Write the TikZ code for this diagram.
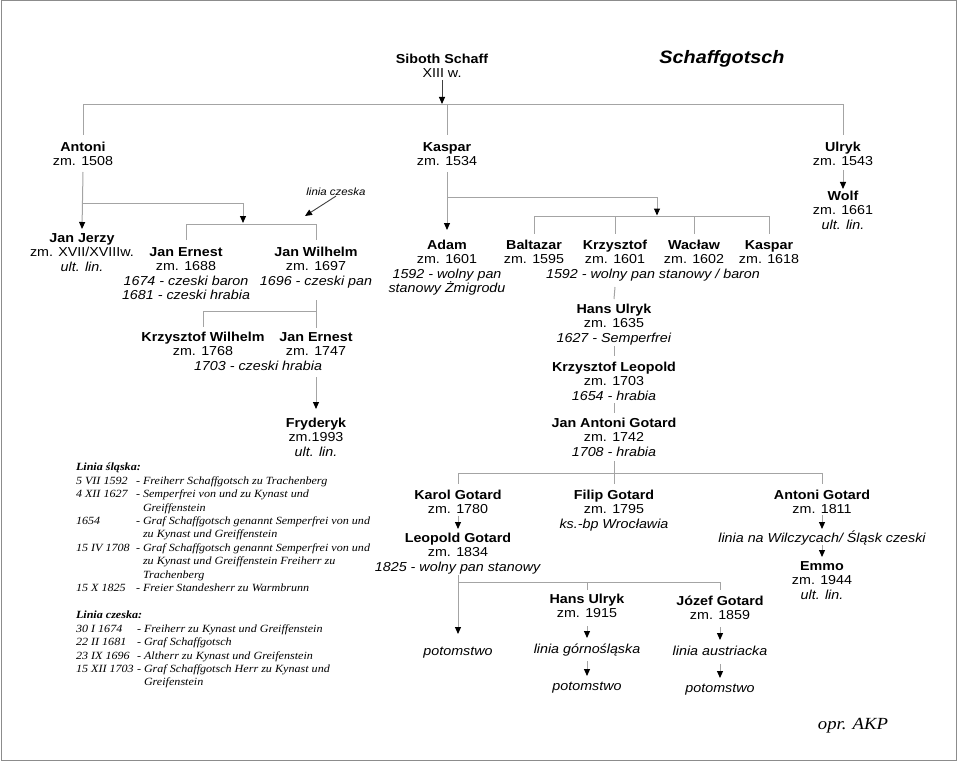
\documentclass[tikz,border=0pt]{standalone}
\usepackage{fontspec}
\setmainfont{Liberation Sans}[FakeStretch=1.1]
\newfontfamily\legendfont{Liberation Serif}[FakeStretch=1.1]
\usetikzlibrary{arrows.meta}
\definecolor{linegray}{HTML}{A4A4A4}
\definecolor{framegray}{HTML}{8C8C8C}
\begin{document}
\begin{tikzpicture}[x=1pt,y=-1pt,
  every node/.style={inner sep=0pt, outer sep=0pt},
  person/.style={align=center, anchor=base, font=\fontsize{13}{14.3}\selectfont},
  p/.style={person, yshift={(1-#1)*14.3pt}},
  note/.style={anchor=base, font=\fontsize{13}{14.3}\selectfont\itshape},
  leg/.style={anchor=base west, align=left, font=\legendfont\itshape\fontsize{11}{13.4}\selectfont},
  lg/.style={leg, yshift={(1-#1)*13.4pt}},
  leghead/.style={anchor=base west, font=\legendfont\bfseries\itshape\fontsize{11}{13.4}\selectfont},
  ln/.style={draw=linegray, line width=1pt},
  arr/.style={ln, -{Triangle[length=7pt,width=6pt,color=black]}},
  darr/.style={draw=black!75, line width=0.9pt, -{Triangle[length=7pt,width=6pt,color=black]}},
]
\useasboundingbox (0,0) rectangle (960,762);
\draw[framegray, line width=1pt] (1,1) rectangle (956,760);

% ---------- people ----------
\node[p=2] (siboth) at (442,63.5) {\textbf{Siboth Schaff}\\XIII w.};
\node[anchor=base, font=\bfseries\itshape\fontsize{18}{20}\selectfont] (title) at (722,63.5) {Schaffgotsch};

\node[p=2] (antoni) at (83,151.5) {\textbf{Antoni}\\zm. 1508};
\node[p=2] (kaspar) at (447,151.5) {\textbf{Kaspar}\\zm. 1534};
\node[p=2] (ulryk) at (843,151.5) {\textbf{Ulryk}\\zm. 1543};
\node[p=3] (wolf) at (843,200.5) {\textbf{Wolf}\\zm. 1661\\\textit{ult. lin.}};

\node[p=3] (janjerzy) at (82,242.5) {\textbf{Jan Jerzy}\\zm. XVII/XVIIIw.\\\textit{ult. lin.}};
\node[p=4] (janernest) at (186,256.5) {\textbf{Jan Ernest}\\zm. 1688\\\textit{1674 - czeski baron}\\\textit{1681 - czeski hrabia}};
\node[p=3] (janwilhelm) at (316,256.5) {\textbf{Jan Wilhelm}\\zm. 1697\\\textit{1696 - czeski pan}};
\node[anchor=base, font=\itshape\fontsize{10.4}{12}\selectfont, inner sep=1pt] (lc) at (336,195) {linia czeska};

\node[p=2] (krzwilhelm) at (203,341.6) {\textbf{Krzysztof Wilhelm}\\zm. 1768};
\node[p=2] (janernest2) at (316,341.6) {\textbf{Jan Ernest}\\zm. 1747};
\node[note] (czhr) at (258,370) {1703 - czeski hrabia};
\node[p=3] (fryderyk) at (316,427.6) {\textbf{Fryderyk}\\zm.1993\\\textit{ult. lin.}};

\node[p=4] (adam) at (447,249.5) {\textbf{Adam}\\zm. 1601\\\textit{1592 - wolny pan}\\\textit{stanowy Żmigrodu}};
\node[p=2] (baltazar) at (534,249.5) {\textbf{Baltazar}\\zm. 1595};
\node[p=2] (krzysztof) at (615,249.5) {\textbf{Krzysztof}\\zm. 1601};
\node[p=2] (waclaw) at (694,249.5) {\textbf{Wacław}\\zm. 1602};
\node[p=2] (kaspar2) at (769,249.5) {\textbf{Kaspar}\\zm. 1618};
\node[note] (wps) at (653,278.5) {1592 - wolny pan stanowy / baron};

\node[p=3] (hansulryk) at (614,313.6) {\textbf{Hans Ulryk}\\zm. 1635\\\textit{1627 - Semperfrei}};
\node[p=3] (krzleopold) at (614,371.6) {\textbf{Krzysztof Leopold}\\zm. 1703\\\textit{1654 - hrabia}};
\node[p=3] (janantoni) at (614,427.6) {\textbf{Jan Antoni Gotard}\\zm. 1742\\\textit{1708 - hrabia}};

\node[p=2] (karol) at (458,499.6) {\textbf{Karol Gotard}\\zm. 1780};
\node[p=3] (leopold) at (458,542.6) {\textbf{Leopold Gotard}\\zm. 1834\\\textit{1825 - wolny pan stanowy}};
\node[p=3] (filip) at (614,499.6) {\textbf{Filip Gotard}\\zm. 1795\\\textit{ks.-bp Wrocławia}};
\node[p=2] (antonig) at (822,499.6) {\textbf{Antoni Gotard}\\zm. 1811};
\node[note] (wilcz) at (822,542.5) {linia na Wilczycach/ Śląsk czeski};
\node[p=3] (emmo) at (822,570.6) {\textbf{Emmo}\\zm. 1944\\\textit{ult. lin.}};

\node[p=2] (hansulryk2) at (587,603.6) {\textbf{Hans Ulryk}\\zm. 1915};
\node[p=2] (jozef) at (720,605.6) {\textbf{Józef Gotard}\\zm. 1859};
\node[note] (pot1) at (458,655.5) {potomstwo};
\node[note] (lgs) at (587,653.5) {linia górnośląska};
\node[note] (pot2) at (587,690.5) {potomstwo};
\node[note] (la) at (720,655.5) {linia austriacka};
\node[note] (pot3) at (720,692.5) {potomstwo};

% ---------- connectors ----------
\draw[darr] (siboth |- 0,80) -- (siboth |- 0,104);
\draw[ln] (antoni |- 0,104.5) -- (ulryk |- 0,104.5);
\draw[ln] (antoni |- 0,104.5) -- (antoni |- 0,135);
\draw[ln] (kaspar |- 0,104.5) -- (kaspar |- 0,135);
\draw[ln] (ulryk |- 0,104.5) -- (ulryk |- 0,135);

\draw[arr] (antoni |- 0,172) -- (janjerzy |- 0,229);
\coordinate (cz1) at (243,203);
\draw[ln] (antoni |- 0,203) -- (cz1);
\draw[arr] (cz1) -- (243,223);
\draw[ln] (janernest |- 0,224) -- (janwilhelm |- 0,224);
\draw[ln] (janernest |- 0,224) -- (janernest |- 0,240);
\draw[ln] (janwilhelm |- 0,224) -- (janwilhelm |- 0,240);
\coordinate (lcend) at (305,216);
\draw[darr] (lc.south) -- (lcend);

\draw[ln] (janwilhelm |- 0,300) -- (janernest2 |- 0,328);
\draw[ln] (krzwilhelm |- 0,311) -- (janwilhelm |- 0,311);
\draw[ln] (krzwilhelm |- 0,311) -- (krzwilhelm |- 0,327);
\draw[arr] (janernest2 |- 0,377) -- (fryderyk |- 0,409);

\draw[arr] (kaspar |- 0,172) -- (adam |- 0,230);
\coordinate (kb) at (657,197);
\draw[ln] (kaspar |- 0,197) -- (kb);
\draw[arr] (kb) -- (657,215.5);
\draw[ln] (baltazar |- 0,216) -- (kaspar2 |- 0,216);
\foreach \n in {baltazar,krzysztof,waclaw,kaspar2}
  \draw[ln] (\n |- 0,216) -- (\n |- 0,234);

\draw[arr] (ulryk |- 0,170) -- (wolf |- 0,189);

\draw[ln] (krzysztof |- 0,287) -- (hansulryk |- 0,299);
\draw[ln] (hansulryk |- 0,346) -- (krzleopold |- 0,356);
\draw[ln] (krzleopold |- 0,403) -- (janantoni |- 0,413);
\draw[ln] (janantoni |- 0,461) -- (filip |- 0,484);
\draw[ln] (karol |- 0,473) -- (antonig |- 0,473);
\draw[ln] (karol |- 0,473) -- (karol |- 0,484);
\draw[ln] (antonig |- 0,473) -- (antonig |- 0,484);

\draw[arr] (karol |- 0,516) -- (leopold |- 0,529);
\draw[arr] (antonig |- 0,515) -- (wilcz |- 0,529);
\draw[arr] (wilcz |- 0,545) -- (emmo |- 0,557);

\draw[arr] (leopold |- 0,575) -- (pot1 |- 0,634);
\draw[ln] (leopold |- 0,582) -- (jozef |- 0,582);
\draw[ln] (hansulryk2 |- 0,582) -- (hansulryk2 |- 0,590);
\draw[ln] (jozef |- 0,582) -- (jozef |- 0,590);

\draw[arr] (hansulryk2 |- 0,626) -- (lgs |- 0,638);
\draw[arr] (lgs |- 0,661) -- (pot2 |- 0,676);
\draw[arr] (jozef |- 0,627) -- (la |- 0,640);
\draw[arr] (la |- 0,664) -- (pot3 |- 0,678);

% ---------- legend ----------
\node[leghead] (lsh) at (76,470.8) {Linia śląska:};
\node[leg] (d1) at (76,484.2) {5 VII 1592};
\node[leg] (h1) at (136,484.2) {-};
\node[leg] (t1) at (143,484.2) {Freiherr Schaffgotsch zu Trachenberg};
\node[leg] (d2) at (76,497.6) {4 XII 1627};
\node[leg] (h2) at (136,497.6) {-};
\node[lg=2] (t2) at (143,497.6) {Semperfrei von und zu Kynast und\\Greiffenstein};
\node[leg] (d3) at (76,524.4) {1654};
\node[leg] (h3) at (136,524.4) {-};
\node[lg=2] (t3) at (143,524.4) {Graf Schaffgotsch genannt Semperfrei von und\\zu Kynast und Greiffenstein};
\node[leg] (d4) at (76,551.2) {15 IV 1708};
\node[leg] (h4) at (136,551.2) {-};
\node[lg=3] (t4) at (143,551.2) {Graf Schaffgotsch genannt Semperfrei von und\\zu Kynast und Greiffenstein Freiherr zu\\Trachenberg};
\node[leg] (d5) at (76,591.4) {15 X 1825};
\node[leg] (h5) at (136,591.4) {-};
\node[leg] (t5) at (143,591.4) {Freier Standesherr zu Warmbrunn};

\node[leghead] (lcz) at (76,618.8) {Linia czeska:};
\node[leg] (e1) at (76,632.2) {30 I 1674};
\node[leg] (g1) at (137,632.2) {-};
\node[leg] (u1) at (144,632.2) {Freiherr zu Kynast und Greiffenstein};
\node[leg] (e2) at (76,645.6) {22 II 1681};
\node[leg] (g2) at (137,645.6) {-};
\node[leg] (u2) at (144,645.6) {Graf Schaffgotsch};
\node[leg] (e3) at (76,659) {23 IX 1696};
\node[leg] (g3) at (137,659) {-};
\node[leg] (u3) at (144,659) {Altherr zu Kynast und Greifenstein};
\node[leg] (e4) at (76,672.4) {15 XII 1703};
\node[leg] (g4) at (137,672.4) {-};
\node[lg=2] (u4) at (144,672.4) {Graf Schaffgotsch Herr zu Kynast und\\Greifenstein};

\node[anchor=base, font=\legendfont\itshape\fontsize{17}{18}\selectfont] (sig) at (853,729) {opr. AKP};
\end{tikzpicture}
\end{document}
